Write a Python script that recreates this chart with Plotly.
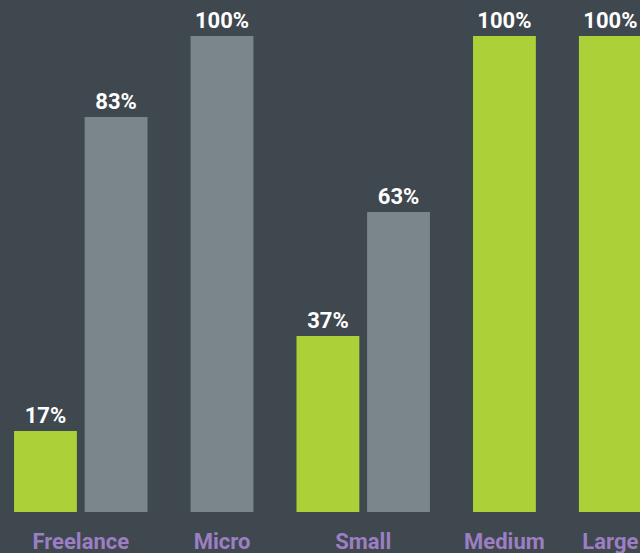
import plotly.graph_objects as go

categories = ["Freelance", "Micro", "Small", "Medium", "Large"]
series_names = ["Green", "Gray"]
green_values = [17, 0, 37, 100, 100]
gray_values = [83, 100, 63, 0, 0]
colors = ["#acd038", "#7a868c"]

BG = "#3f474f"
bar_width = 0.89
group_gap = 0.5

# compute positions: omit zero-valued bars, half-slot gap between groups
xs = {0: [], 1: []}
ys = {0: [], 1: []}
tick_pos = []
pos = 0.0
for i, cat in enumerate(categories):
    vals = [green_values[i], gray_values[i]]
    start = pos
    for s, v in enumerate(vals):
        if v > 0:
            xs[s].append(pos)
            ys[s].append(v)
            pos += 1
    tick_pos.append((start + pos - 1) / 2)
    pos += group_gap

fig = go.Figure()
for s in range(2):
    fig.add_trace(go.Bar(
        x=xs[s], y=ys[s], name=series_names[s],
        width=bar_width,
        marker=dict(color=colors[s], line=dict(width=0)),
        text=[f"{v}%" for v in ys[s]],
        textposition="outside",
        cliponaxis=False,
        hoverinfo="skip",
        textfont=dict(family="Roboto", size=22, color="#ffffff", weight="bold"),
    ))

fig.update_layout(
    width=640, height=553,
    paper_bgcolor=BG, plot_bgcolor=BG,
    margin=dict(l=0, r=0, t=0, b=41),
    showlegend=False,
    barmode="overlay",
    hovermode=False,
    xaxis=dict(
        range=[-0.644, 8.42],
        tickmode="array", tickvals=tick_pos, ticktext=categories,
        tickfont=dict(family="Roboto", size=22, color="#9b7fc2", weight="bold"),
        showgrid=False, zeroline=False, showline=False, ticks="",
        ticklen=0, ticklabelstandoff=14,
    ),
    yaxis=dict(range=[0, 107.56], visible=False, showgrid=False, zeroline=False),
    uniformtext=dict(minsize=22, mode="show"),
)

fig.write_html(
    "out.html",
    config={"displayModeBar": False},
    post_script="document.body.style.margin='0';document.body.style.background='%s';" % BG,
)
